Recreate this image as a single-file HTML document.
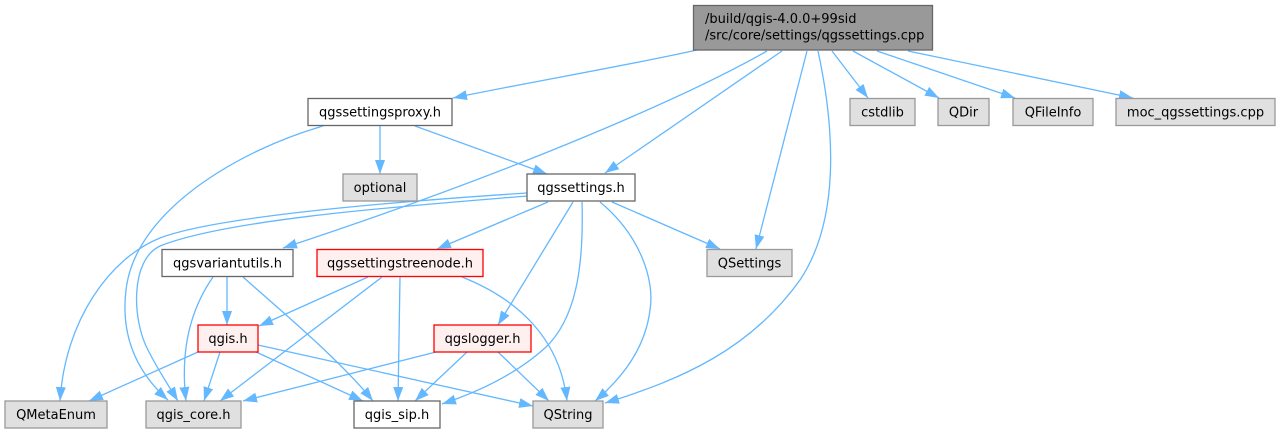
<!DOCTYPE html>
<html><head><meta charset="utf-8"><style>
html,body{margin:0;padding:0;background:#fff;}
svg{display:block;}
text{font-family:"DejaVu Sans","Liberation Sans",sans-serif;font-size:13px;fill:#000;}
.e{fill:none;stroke:#63b8ff;stroke-width:1.3;marker-end:url(#a);}
.g{fill:#e0e0e0;stroke:#999999;stroke-width:1.3;}
.w{fill:#ffffff;stroke:#666666;stroke-width:1.3;}
.r{fill:#fff0f0;stroke:#ff0000;stroke-width:1.3;}
</style></head><body>
<svg width="1281" height="434" viewBox="0 0 1281 434" xmlns="http://www.w3.org/2000/svg">
<defs>
<marker id="a" markerUnits="userSpaceOnUse" markerWidth="15" markerHeight="11" refX="14" refY="5" orient="auto">
<path d="M0,0 L14,5 L0,10 z" fill="#63b8ff"/>
</marker>
</defs>
<rect width="1281" height="434" fill="#fff"/>

<!-- edges from main -->
<path class="e" d="M697,50 C620,67 530,82 453,98"/>
<path class="e" d="M767,51 C690,95 520,170 283,248"/>
<path class="e" d="M782,51 L605,173"/>
<path class="e" d="M807,51 L756,249"/>
<path class="e" d="M818,51 C835,130 840,220 800,280 C750,350 680,380 605,403"/>
<path class="e" d="M832,51 L868,98"/>
<path class="e" d="M853,51 L939,98"/>
<path class="e" d="M877,51 L1015,98"/>
<path class="e" d="M908,51 L1133,98"/>

<!-- proxy edges -->
<path class="e" d="M323,126 C240,150 135,210 126,290 C120,340 140,375 168,400"/>
<path class="e" d="M380,126 L380,174"/>
<path class="e" d="M415,126 L547,174"/>

<!-- qgssettings.h edges -->
<path class="e" d="M527,193 C420,200 220,215 160,238 C110,258 65,320 60,401"/>
<path class="e" d="M527,196 C420,205 230,218 160,246 C130,260 132,320 148,350 C158,370 170,388 178,401"/>
<path class="e" d="M548,202 L437,249"/>
<path class="e" d="M573,202 L498,325"/>
<path class="e" d="M582,202 C584,270 575,320 545,348 C515,375 475,393 442,404"/>
<path class="e" d="M600,202 C640,235 655,280 650,310 C645,350 620,380 595,401"/>
<path class="e" d="M612,202 L720,249"/>

<!-- qgsvariantutils edges -->
<path class="e" d="M213,277 C190,310 180,350 186,401"/>
<path class="e" d="M227,277 L227,325"/>
<path class="e" d="M243,277 C280,310 340,360 373,401"/>

<!-- treenode edges -->
<path class="e" d="M368,277 L259,326"/>
<path class="e" d="M382,277 L220,401"/>
<path class="e" d="M400,277 L398,401"/>
<path class="e" d="M462,277 C520,300 560,340 567,401"/>

<!-- qgis.h edges -->
<path class="e" d="M198,352 L89,401"/>
<path class="e" d="M220,352 L204,401"/>
<path class="e" d="M256,352 L363,401"/>
<path class="e" d="M258,345 L533,406"/>

<!-- qgslogger edges -->
<path class="e" d="M436,352 L243,401"/>
<path class="e" d="M467,352 L415,401"/>
<path class="e" d="M498,352 L549,401"/>

<!-- nodes -->
<rect x="693.5" y="5.5" width="239" height="44.5" fill="#999999" stroke="#666666" stroke-width="1.3"/>
<text x="705" y="23">/build/qgis-4.0.0+99sid</text>
<text x="705" y="39.5">/src/core/settings/qgssettings.cpp</text>

<rect class="w" x="308" y="98.5" width="144" height="27"/>
<text x="380" y="116.5" text-anchor="middle">qgssettingsproxy.h</text>
<rect class="g" x="850" y="98.5" width="65" height="27"/>
<text x="882.5" y="116.5" text-anchor="middle">cstdlib</text>
<rect class="g" x="938" y="98.5" width="51" height="27"/>
<text x="963.5" y="116.5" text-anchor="middle">QDir</text>
<rect class="g" x="1013" y="98.5" width="80" height="27"/>
<text x="1053" y="116.5" text-anchor="middle">QFileInfo</text>
<rect class="g" x="1116" y="98.5" width="159" height="27"/>
<text x="1195.5" y="116.5" text-anchor="middle">moc_qgssettings.cpp</text>

<rect class="g" x="343" y="174" width="74" height="27"/>
<text x="380" y="192" text-anchor="middle">optional</text>
<rect class="w" x="527" y="174" width="108" height="27"/>
<text x="581" y="192" text-anchor="middle">qgssettings.h</text>

<rect class="w" x="162" y="249.5" width="131" height="27"/>
<text x="227.5" y="267.5" text-anchor="middle">qgsvariantutils.h</text>
<rect class="r" x="317" y="249.5" width="166" height="27"/>
<text x="400" y="267.5" text-anchor="middle">qgssettingstreenode.h</text>
<rect class="g" x="707" y="249.5" width="85" height="27"/>
<text x="749.5" y="267.5" text-anchor="middle">QSettings</text>

<rect class="r" x="198" y="325" width="60" height="27"/>
<text x="228" y="343" text-anchor="middle">qgis.h</text>
<rect class="r" x="434" y="325" width="97" height="27"/>
<text x="482.5" y="343" text-anchor="middle">qgslogger.h</text>

<rect class="g" x="5" y="401" width="102" height="27"/>
<text x="56" y="419" text-anchor="middle">QMetaEnum</text>
<rect class="g" x="146" y="401" width="95" height="27"/>
<text x="193.5" y="419" text-anchor="middle">qgis_core.h</text>
<rect class="w" x="354" y="401" width="86" height="27"/>
<text x="397" y="419" text-anchor="middle">qgis_sip.h</text>
<rect class="g" x="533" y="401" width="70" height="27"/>
<text x="568" y="419" text-anchor="middle">QString</text>
</svg>
</body></html>
